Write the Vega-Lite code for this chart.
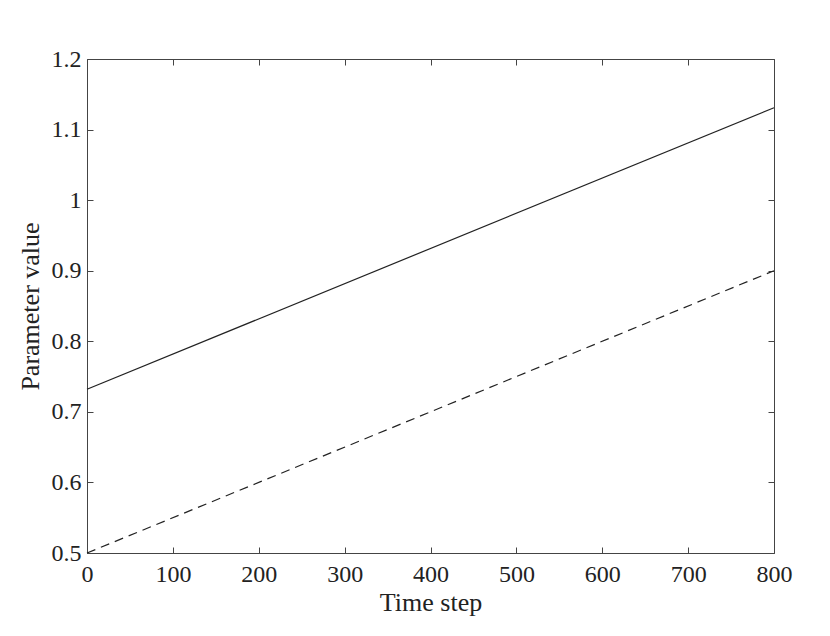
{
  "$schema": "https://vega.github.io/schema/vega-lite/v6.json",
  "width": 687,
  "height": 494,
  "autosize": {"type": "none"},
  "padding": {"left": 87, "top": 59, "right": 56, "bottom": 83},
  "background": "white",
  "config": {
    "view": {"stroke": null},
    "font": "Liberation Serif",
    "axis": {
      "domainColor": "#444444",
      "domainWidth": 1,
      "tickColor": "#444444",
      "tickSize": -6,
      "tickWidth": 1,
      "grid": false,
      "labelFlush": false,
      "labelOverlap": false,
      "labelFont": "Liberation Serif",
      "labelFontSize": 24,
      "labelColor": "#222222",
      "titleFont": "Liberation Serif",
      "titleFontSize": 26,
      "titleFontWeight": "normal",
      "titleColor": "#222222"
    }
  },
  "data": {
    "values": [
      {"t": 0, "v": 0.732, "s": "a"},
      {"t": 800, "v": 1.131, "s": "a"},
      {"t": 0, "v": 0.5, "s": "b"},
      {"t": 800, "v": 0.9, "s": "b"}
    ]
  },
  "resolve": {"axis": {"x": "independent", "y": "independent"}},
  "layer": [
    {
      "mark": {"type": "line", "color": "#222222", "strokeWidth": 1.2},
      "transform": [{"filter": "datum.s == 'a'"}],
      "encoding": {
        "x": {"field": "t", "type": "quantitative", "scale": {"domain": [0, 800], "nice": false},
          "axis": {"orient": "bottom", "values": [0,100,200,300,400,500,600,700,800], "title": "Time step", "labelPadding": 15, "titlePadding": 3}},
        "y": {"field": "v", "type": "quantitative", "scale": {"domain": [0.5, 1.2], "nice": false, "zero": false},
          "axis": {"orient": "left", "values": [0.5,0.6,0.7,0.8,0.9,1,1.1,1.2], "format": "~g", "title": "Parameter value", "labelPadding": 12, "titlePadding": 8}}
      }
    },
    {
      "mark": {"type": "line", "color": "#222222", "strokeWidth": 1.2, "strokeDash": [9, 6]},
      "transform": [{"filter": "datum.s == 'b'"}],
      "encoding": {
        "x": {"field": "t", "type": "quantitative", "scale": {"domain": [0, 800], "nice": false},
          "axis": {"orient": "top", "values": [0,100,200,300,400,500,600,700,800], "labels": false, "title": null}},
        "y": {"field": "v", "type": "quantitative", "scale": {"domain": [0.5, 1.2], "nice": false, "zero": false},
          "axis": {"orient": "right", "values": [0.5,0.6,0.7,0.8,0.9,1,1.1,1.2], "labels": false, "title": null}}
      }
    }
  ]
}
